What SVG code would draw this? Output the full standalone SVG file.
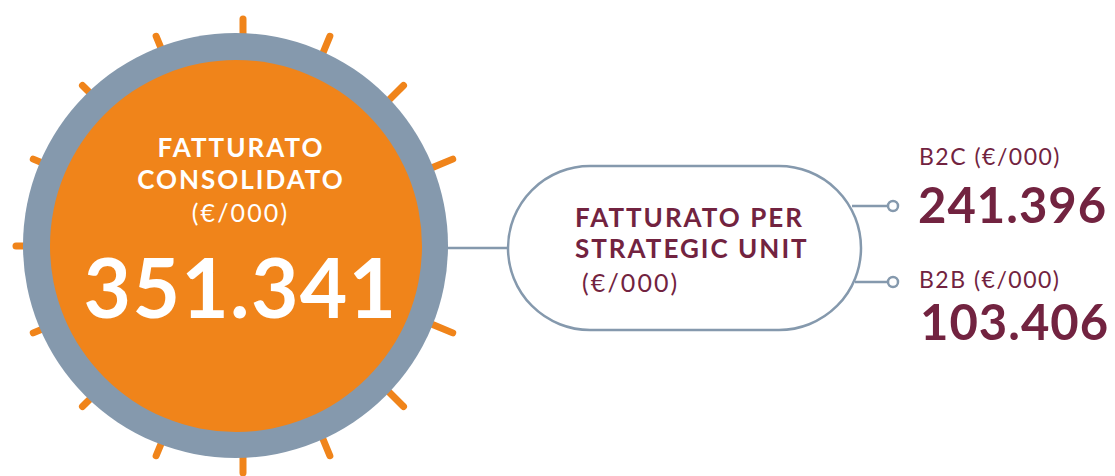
<svg xmlns="http://www.w3.org/2000/svg" width="1115" height="476" viewBox="0 0 1115 476">
<defs>
<style>
.spike{stroke:#F0841A;stroke-width:7;stroke-linecap:round;fill:none}
.conn{stroke:#8599AD;stroke-width:2.5;fill:none}
.dot{stroke:#8599AD;stroke-width:2.5;fill:#fff}
.t{font-family:Lato,"Open Sans","Liberation Sans",sans-serif}
.b{font-weight:700}
.w{fill:#fff}
.m{fill:#722340}
</style>
</defs>
<rect width="1115" height="476" fill="#fff"/>
<g id="connectors">
<line class="conn" x1="446" y1="248" x2="508" y2="248"/>
<line class="conn" x1="852" y1="206" x2="888" y2="206"/>
<line class="conn" x1="855" y1="282" x2="888" y2="282"/>
<circle class="dot" cx="893" cy="206" r="5"/>
<circle class="dot" cx="893" cy="282" r="5"/>
</g>
<g id="node-consolidato">
<g transform="translate(243,246)">
<line class="spike" x1="0" y1="-200" x2="0" y2="-227" transform="rotate(22.5)"/>
<line class="spike" x1="0" y1="-200" x2="0" y2="-227" transform="rotate(45)"/>
<line class="spike" x1="0" y1="-200" x2="0" y2="-227" transform="rotate(67.5)"/>
<line class="spike" x1="0" y1="-200" x2="0" y2="-227" transform="rotate(112.5)"/>
<line class="spike" x1="0" y1="-200" x2="0" y2="-227" transform="rotate(135)"/>
<line class="spike" x1="0" y1="-200" x2="0" y2="-227" transform="rotate(157.5)"/>
<line class="spike" x1="0" y1="-200" x2="0" y2="-227" transform="rotate(180)"/>
<line class="spike" x1="0" y1="-200" x2="0" y2="-227" transform="rotate(202.5)"/>
<line class="spike" x1="0" y1="-200" x2="0" y2="-227" transform="rotate(225)"/>
<line class="spike" x1="0" y1="-200" x2="0" y2="-227" transform="rotate(247.5)"/>
<line class="spike" x1="0" y1="-200" x2="0" y2="-227" transform="rotate(270)"/>
<line class="spike" x1="0" y1="-200" x2="0" y2="-227" transform="rotate(292.5)"/>
<line class="spike" x1="0" y1="-200" x2="0" y2="-227" transform="rotate(315)"/>
<line class="spike" x1="0" y1="-200" x2="0" y2="-227" transform="rotate(337.5)"/>
<line class="spike" x1="0" y1="-200" x2="0" y2="-227"/>
</g>
<circle cx="235.5" cy="245.5" r="212.5" fill="#8599AD"/>
<circle cx="236" cy="246" r="186" fill="#F0841A"/>
<text class="t b w" x="241" y="157" font-size="26" letter-spacing="2" text-anchor="middle">FATTURATO</text>
<text class="t b w" x="241" y="189" font-size="26" letter-spacing="2" text-anchor="middle">CONSOLIDATO</text>
<text class="t w" x="240.5" y="222" font-size="25" letter-spacing="2.1" text-anchor="middle">(€/000)</text>
<text class="t b w" x="240.5" y="318" font-size="82" letter-spacing="1.3" text-anchor="middle">351.341</text>
</g>
<g id="node-strategic">
<rect x="508" y="166" width="353" height="164" rx="82" ry="82" fill="#fff" stroke="#8599AD" stroke-width="2.5"/>
<text class="t b m" x="575" y="227" font-size="26" letter-spacing="2">FATTURATO PER</text>
<text class="t b m" x="575" y="258" font-size="26" letter-spacing="2">STRATEGIC UNIT</text>
<text class="t m" x="582" y="292" font-size="25" letter-spacing="2.1">(€/000)</text>
</g>
<g id="node-b2c">
<text class="t m" x="919" y="165" font-size="23" letter-spacing="1.5">B2C (€/000)</text>
<text class="t b m" x="918" y="223" font-size="49" letter-spacing="1">241.396</text>
</g>
<g id="node-b2b">
<text class="t m" x="919" y="288" font-size="23" letter-spacing="1.5">B2B (€/000)</text>
<text class="t b m" x="920" y="340" font-size="49" letter-spacing="1">103.406</text>
</g>
</svg>
